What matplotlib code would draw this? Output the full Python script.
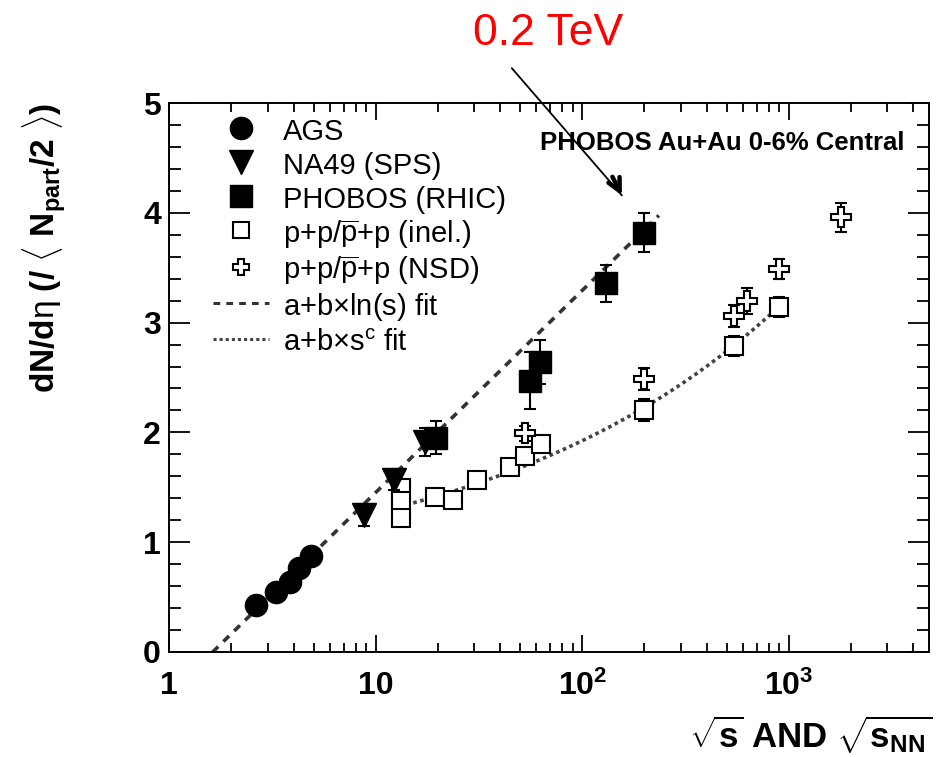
import numpy as np
import matplotlib
matplotlib.use("Agg")
import matplotlib.pyplot as plt
from matplotlib.lines import Line2D
from matplotlib.ticker import FixedLocator, FixedFormatter, LogLocator, MultipleLocator, NullFormatter

plt.rcParams['font.family'] = ['Liberation Sans', 'DejaVu Sans']
plt.rcParams['mathtext.fontset'] = 'custom'
plt.rcParams['mathtext.rm'] = 'Liberation Sans'
plt.rcParams['mathtext.it'] = 'Liberation Sans:italic'
plt.rcParams['mathtext.bf'] = 'Liberation Sans:bold'

# ---- data ----
ags_x = [2.63, 3.28, 3.84, 4.27, 4.87]
ags_y = [0.43, 0.54, 0.64, 0.76, 0.87]

na49_x = [8.8, 12.3, 17.3]
na49_y = [1.25, 1.57, 1.91]
na49_err = [0.10, 0.10, 0.13]

phobos_x = [19.6, 56.0, 62.4, 130.0, 200.0]
phobos_y = [1.95, 2.47, 2.64, 3.36, 3.82]
phobos_err = [0.15, 0.26, 0.20, 0.17, 0.18]

inel_x = [13.3, 13.3, 13.3, 19.4, 23.6, 30.8, 44.9, 53.0, 63.0, 200.0, 546.0, 900.0]
inel_y = [1.49, 1.37, 1.22, 1.41, 1.38, 1.57, 1.68, 1.78, 1.89, 2.20, 2.79, 3.14]
inel_err = [0.05, 0.05, 0.06, 0.05, 0.05, 0.06, 0.06, 0.07, 0.07, 0.10, 0.09, 0.09]

nsd_x = [53.0, 200.0, 546.0, 630.0, 900.0, 1800.0]
nsd_y = [1.99, 2.49, 3.06, 3.20, 3.49, 3.96]
nsd_err = [0.07, 0.10, 0.10, 0.12, 0.09, 0.13]

# fit parameters
ln_a, ln_b = -0.39, 0.40          # a + b ln(s)
pw_a, pw_b, pw_c = 0.61, 0.33, 0.15  # a + b s^c
ln_range = (1.62, 235.0)
pw_range = (13.0, 900.0)

xticks = [1, 10, 100, 1000]
xticklabels = ['1', '10', r'$\mathbf{10^{2}}$', r'$\mathbf{10^{3}}$']
yticks = [0, 1, 2, 3, 4, 5]

# ---- figure ----
fig = plt.figure(figsize=(9.4, 7.57), dpi=100)
ax = fig.add_axes([169.3/940, 1-651.7/757, (929-169.3)/940, (651.7-103.3)/757])
ax.set_xscale('log')
ax.set_xlim(1, 4780)
ax.set_ylim(0, 5)

# fits
xs = np.logspace(np.log10(ln_range[0]), np.log10(ln_range[1]), 200)
ax.plot(xs, ln_a + ln_b*np.log(xs**2), ls=(0, (2.2, 2.0)), color='#333333', lw=2.6, zorder=2)
xs2 = np.logspace(np.log10(pw_range[0]), np.log10(pw_range[1]), 200)
ax.plot(xs2, pw_a + pw_b*(xs2**2)**pw_c, ls=(0, (1.0, 1.0)), color='#444444', lw=2.6, zorder=2)

ekw = dict(ecolor='black', elinewidth=1.5, capsize=4.5, capthick=1.5, ls='none')
ax.errorbar(inel_x, inel_y, yerr=inel_err, fmt='s', ms=13, mfc='white', mec='black', mew=1.5, zorder=3, **ekw)
ax.errorbar(nsd_x, nsd_y, yerr=nsd_err, fmt='P', ms=14, mfc='white', mec='black', mew=1.5, zorder=3, **ekw)
ax.plot(ags_x, ags_y, 'o', ms=16, color='black', zorder=4)
ax.errorbar(na49_x, na49_y, yerr=na49_err, fmt='v', ms=17, mfc='black', mec='black', zorder=4, **ekw)
ax.errorbar(phobos_x, phobos_y, yerr=phobos_err, fmt='s', ms=16, mfc='black', mec='black', zorder=5, **ekw)

# axes styling
for s in ax.spines.values():
    s.set_linewidth(1.4)
ax.xaxis.set_major_locator(FixedLocator(xticks))
ax.xaxis.set_major_formatter(FixedFormatter(xticklabels))
ax.xaxis.set_minor_locator(LogLocator(base=10, subs=np.arange(2, 10), numticks=20))
ax.xaxis.set_minor_formatter(NullFormatter())
ax.yaxis.set_major_locator(FixedLocator(yticks))
ax.yaxis.set_minor_locator(MultipleLocator(0.2))
ax.tick_params(which='both', direction='in', top=True, right=True, width=1.3)
ax.tick_params(axis='x', which='major', length=12, labelsize=23, pad=14)
ax.tick_params(axis='x', which='minor', length=6.5)
ax.tick_params(axis='y', which='major', length=15, labelsize=23, pad=6)
ax.tick_params(axis='y', which='minor', length=8.5)
for lab in ax.get_xticklabels() + ax.get_yticklabels():
    lab.set_fontweight('bold')

ax.set_ylabel(r'dN/d$\mathrm{\eta}$ (/ $\langle$ N$_{\mathbf{part}}$/2 $\rangle$)',
              fontsize=24, fontweight='bold')
ax.yaxis.set_label_coords(-0.134, 0.736)
ax.set_xlabel(r'$\mathbf{\sqrt{s}\ AND\ \sqrt{s_{NN}}}$', fontsize=25)
ax.xaxis.set_label_coords(1.004, -0.114)
ax.xaxis.label.set_horizontalalignment('right')

ax.text(0.968, 0.928, 'PHOBOS Au+Au 0-6% Central', transform=ax.transAxes,
        ha='right', va='center', fontsize=18.5, fontweight='bold')

# legend
handles = [
    Line2D([], [], ls='none', marker='o', ms=16, color='black'),
    Line2D([], [], ls='none', marker='v', ms=17, color='black'),
    Line2D([], [], ls='none', marker='s', ms=16, color='black'),
    Line2D([], [], ls='none', marker='s', ms=11, mfc='white', mec='black', mew=1.5),
    Line2D([], [], ls='none', marker='P', ms=12, mfc='white', mec='black', mew=1.5),
    Line2D([], [], ls=(0, (2.2, 2.0)), color='#333333', lw=2.2),
    Line2D([], [], ls=(0, (1.0, 1.0)), color='#444444', lw=2.2),
]
labels = ['AGS', 'NA49 (SPS)', 'PHOBOS (RHIC)',
          r'p+p/$\overline{\mathrm{p}}$+p (inel.)',
          r'p+p/$\overline{\mathrm{p}}$+p (NSD)',
          r'a+b$\times$ln(s) fit', r'a+b$\times$s$^{\mathrm{c}}$ fit']
ax.legend(handles, labels, loc='upper left', bbox_to_anchor=(0.058, 0.978), frameon=False,
          fontsize=21, handlelength=1.9, handleheight=1.2, handletextpad=0.5, labelspacing=0.11,
          borderpad=0, borderaxespad=0)

# annotation
ax.annotate('', xy=(155.6, 4.16), xytext=(45.6, 5.32), xycoords='data', textcoords='data',
            annotation_clip=False,
            arrowprops=dict(arrowstyle='-', color='black', lw=1.3, shrinkA=0, shrinkB=0))
ax.annotate('', xy=(155.6, 4.16), xytext=(140.0, 4.33), xycoords='data', textcoords='data',
            annotation_clip=False,
            arrowprops=dict(arrowstyle='->,head_length=0.9,head_width=0.45', color='black', lw=3.2,
                            shrinkA=0, shrinkB=0))
ax.text(68.4, 5.64, '0.2 TeV', color='red', fontsize=32, ha='center', va='center', clip_on=False)

fig.savefig('out.png', dpi=100)
